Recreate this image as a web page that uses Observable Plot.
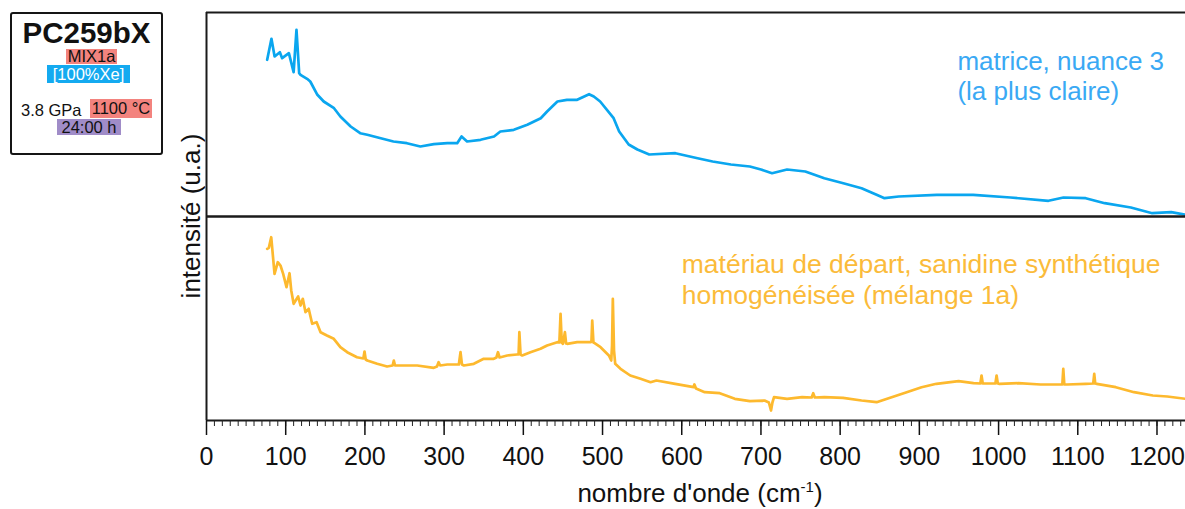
<!DOCTYPE html>
<html>
<head>
<meta charset="utf-8">
<script src="https://cdn.jsdelivr.net/npm/d3@7"></script>
<script src="https://cdn.jsdelivr.net/npm/@observablehq/plot@0.6"></script>
<style>
  html, body { margin: 0; padding: 0; background: #fff; }
  #wrap { position: relative; width: 1185px; height: 509px; font-family: "Liberation Sans", Arial, Helvetica, sans-serif; color: #111; }
  #wrap svg { position: absolute; left: 0; top: 0; }
  .abs { position: absolute; white-space: nowrap; }
  .lg { font-size: 16.5px; text-align: center; }
</style>
</head>
<body>
<div id="wrap">
  <div id="chart"></div>
  <div class="abs" style="left:10px;top:12px;width:153px;height:143px;box-sizing:border-box;border:2.5px solid #151515;border-radius:3px;"></div>
  <div class="abs" id="sample" style="left:10px;top:21px;width:153px;height:24px;text-align:center;font-weight:bold;font-size:29.5px;line-height:24px;"></div>
  <div class="abs lg" id="mix" style="left:66px;top:49px;width:51px;height:15px;line-height:15px;background:#f3837e;"></div>
  <div class="abs lg" id="gas" style="left:47px;top:65px;width:83px;height:18px;line-height:18px;background:#14aaf0;color:#fff;"></div>
  <div class="abs lg" id="press" style="left:21px;top:101px;line-height:18px;text-align:left;"></div>
  <div class="abs lg" id="temp" style="left:90px;top:99px;width:62px;height:19px;line-height:19px;background:#f3837e;"></div>
  <div class="abs lg" id="dur" style="left:57px;top:119px;width:64px;height:16px;line-height:16px;background:#a08cc8;"></div>
  <div class="abs" id="ylab" style="left:191px;top:216px;font-size:26px;line-height:26px;transform:translate(-50%,-50%) rotate(-90deg);"></div>
  <div class="abs" id="xlab" style="left:700px;top:480px;font-size:26px;line-height:26px;transform:translateX(-50%);">nombre d'onde (cm<sup style="font-size:15px;line-height:0;">-1</sup>)</div>
</div>
<script>
// ---- legend / texts ----
const sampleName = "PC259bX";
const mixture = "MIX1a";
const gas = "[100%Xe]";
const pressure = "3.8 GPa";
const temperature = "1100 °C";
const duration = "24:00 h";
const yTitle = "intensité (u.a.)";
const topLabel = "matrice, nuance 3\n(la plus claire)";
const bottomLabel = "matériau de départ, sanidine synthétique\nhomogénéisée (mélange 1a)";
const panels = ["top", "bottom"];
const majorTicks = [0, 100, 200, 300, 400, 500, 600, 700, 800, 900, 1000, 1100, 1200];

// ---- top spectrum: matrice, nuance 3 ----
const topWn = [76.6, 82, 86, 92.6, 95.5, 104, 110, 113.6, 117, 118.7, 127, 131, 140, 148, 161, 169, 182, 194, 203, 220, 236, 253, 270, 287, 304, 316.5, 322, 329, 346, 363, 371, 388, 405, 422, 430, 443, 455, 468, 483, 489, 497, 514, 521, 533, 544, 559, 592, 620, 639, 662, 686, 700, 714, 733, 756, 780, 804, 827, 846, 856, 874, 922, 968, 1015, 1063, 1082, 1110, 1134, 1167, 1194, 1218, 1236];
const topVal = [156.7, 177.7, 160, 164.3, 158.3, 163.3, 144.3, 186.7, 143.3, 141.7, 137.7, 135, 121.7, 115, 108.3, 100, 90, 83.3, 81.7, 78.3, 75, 73.3, 70, 72.3, 73.3, 73.3, 80, 75, 76.7, 80, 85, 86.7, 91.7, 98.3, 105, 115, 116.7, 116.7, 122.3, 120, 115, 98.3, 85, 72, 67, 62, 63.3, 58.3, 55, 52, 50, 47, 43.3, 47, 45, 38.3, 33.3, 28.3, 21.7, 18.3, 20, 21.7, 21.7, 19, 15.7, 19, 18.3, 13.3, 9, 3.3, 4.3, 1.7];

// ---- bottom spectrum: starting material ----
const botWn = [76.6, 78.7, 81.7, 85.9, 90, 93.4, 96.8, 101, 104.8, 107, 110, 115.7, 118.7, 121.6, 125, 129, 133.4, 139, 144, 152, 160.7, 169, 177.6, 190, 198, 199.5, 201, 203, 215.5, 228, 235, 236.5, 238, 245, 266, 287, 291, 293, 295, 304, 318.6, 320.7, 322.5, 325, 337.5, 350, 362.7, 366, 368, 370, 379.7, 392, 394, 395, 396.5, 398.6, 409, 421.7, 430, 442.8, 445.5, 447, 448.5, 450, 452.5, 454, 455.4, 468, 485, 486, 487, 488.5, 490, 497.5, 508, 511, 512, 513, 514.5, 516, 522.7, 535, 548, 560.6, 568, 591.7, 615, 616, 618, 629, 648, 667, 686, 704.5, 710, 712.7, 714.5, 716.5, 733, 752, 764, 766, 768, 780, 803.7, 827, 846, 865, 884, 902.8, 921.5, 949.5, 968.4, 977, 978.5, 980, 996, 997.5, 999, 1001, 1025, 1053, 1077, 1080.5, 1081.7, 1083, 1086.4, 1110, 1119.5, 1120.8, 1122, 1124, 1148, 1171, 1194.7, 1213, 1236];
const botVal = [171.7, 172.7, 183.3, 146.7, 158.3, 155, 146.7, 133.3, 147.3, 130, 116.7, 124, 115, 121.7, 108.3, 111.7, 96.7, 98.3, 88.3, 85, 81.7, 73.3, 68.3, 63.3, 62, 69, 61, 60, 56.7, 54, 55, 60, 55, 55, 55, 52.7, 54, 58.3, 55, 56, 56, 68.3, 56, 55, 56.7, 61.7, 61.7, 63, 68.3, 63, 65, 66, 66, 88.3, 66, 65, 68.3, 71.7, 75, 78.3, 78, 106.7, 78, 76.7, 88.3, 77, 76.7, 78.3, 78.3, 79, 100, 78, 77.3, 73.3, 65, 60, 75, 121.7, 70, 56.7, 51.7, 45, 41.7, 38.3, 40, 36.7, 33.3, 36, 32, 28.3, 27.3, 21.7, 19.3, 20, 18, 10, 18, 23.3, 21.7, 23.3, 23, 27.3, 23, 23.3, 22.7, 20, 18.3, 23.3, 28.3, 33.3, 36.7, 39.3, 37.3, 37, 45, 37, 37, 45, 37, 36.7, 37.3, 36, 36, 36, 51.7, 36, 36, 36.7, 37, 46.7, 37, 36.7, 33.3, 28.3, 25, 24, 21.7];

const topData = topWn.map((wn, i) => ({wn, val: topVal[i], panel: panels[0]}));
const botData = botWn.map((wn, i) => ({wn, val: botVal[i], panel: panels[1]}));
const labels = [
  {panel: panels[0], label: topLabel},
  {panel: panels[1], label: bottomLabel}
];

const chart = Plot.plot({
  width: 1185,
  height: 509,
  marginLeft: 206,
  marginRight: 0,
  marginTop: 12,
  marginBottom: 89,
  style: {fontFamily: '"Liberation Sans", Arial, Helvetica, sans-serif', background: "transparent", color: "#111", overflow: "visible"},
  x: {domain: [0, 1236], label: null},
  y: {domain: [0, 204], axis: null},
  fy: {domain: panels, axis: null, padding: 0},
  marks: [
    Plot.line(topData, {x: "wn", y: "val", fy: "panel", stroke: "#0aa6ef", strokeWidth: 2.7, strokeLinejoin: "round"}),
    Plot.line(botData, {x: "wn", y: "val", fy: "panel", stroke: "#fdb92e", strokeWidth: 2.7, strokeLinejoin: "round"}),
    Plot.text(labels.slice(0, 1), {x: 948, y: 168, fy: "panel", text: "label", textAnchor: "start", lineAnchor: "top", fontSize: 26, lineHeight: 1.15, fill: "#3aa9f4"}),
    Plot.text(labels.slice(1), {x: 600, y: 169, fy: "panel", text: "label", textAnchor: "start", lineAnchor: "top", fontSize: 26.5, lineHeight: 1.15, fill: "#fbbb3a"}),
    Plot.ruleY([0, 204], {stroke: "#1a1a1a", strokeWidth: 2}),
    Plot.ruleX([0], {stroke: "#1a1a1a", strokeWidth: 2}),
    Plot.axisX(d3.range(0, 1236, 10), {tickSize: 6, tickFormat: () => "", label: null, stroke: "#222", strokeWidth: 1, facetAnchor: "bottom"}),
    Plot.axisX(majorTicks, {tickSize: 15, tickPadding: 12, fontSize: 25, tickFormat: d => String(d), label: null, stroke: "#111", strokeWidth: 1.5, facetAnchor: "bottom"})
  ]
});
document.getElementById("chart").appendChild(chart);

document.getElementById("sample").textContent = sampleName;
document.getElementById("mix").textContent = mixture;
document.getElementById("gas").textContent = gas;
document.getElementById("press").textContent = pressure;
document.getElementById("temp").textContent = temperature;
document.getElementById("dur").textContent = duration;
document.getElementById("ylab").textContent = yTitle;
</script>
</body>
</html>
